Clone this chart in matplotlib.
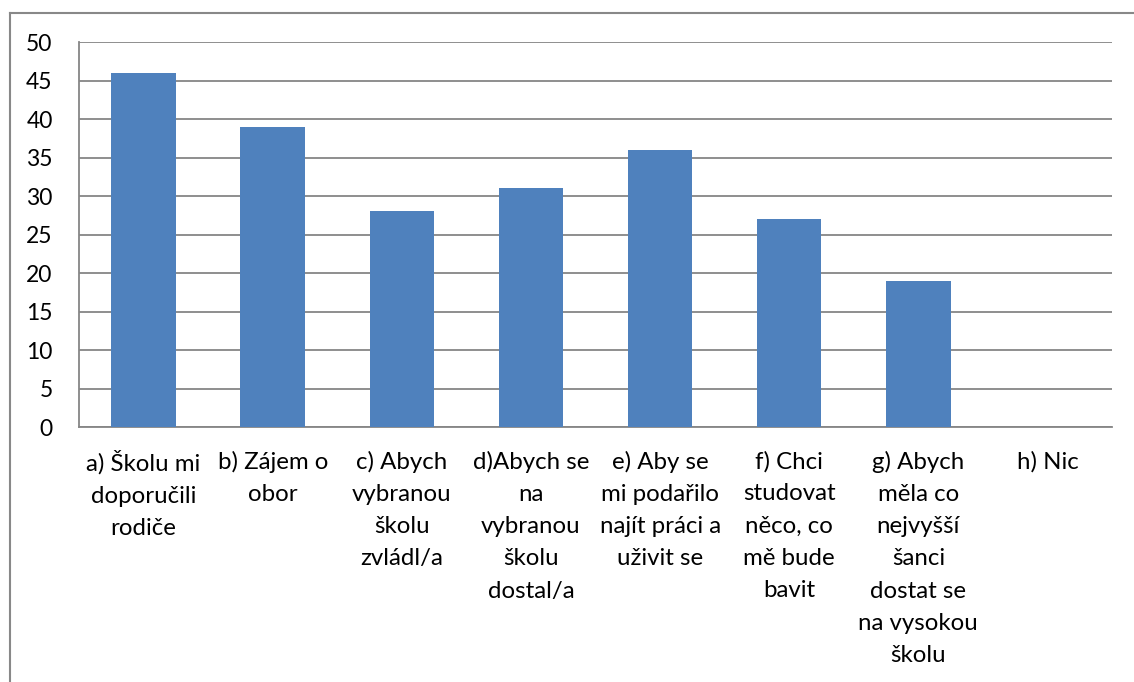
import matplotlib.pyplot as plt
from matplotlib.lines import Line2D

# Data
categories = [
    "a) Školu mi\ndoporučili\nrodiče",
    "b) Zájem o\nobor",
    "c) Abych\nvybranou\nškolu\nzvládl/a",
    "d)Abych se\nna\nvybranou\nškolu\ndostal/a",
    "e) Aby se\nmi podařilo\nnajít práci a\nuživit se",
    "f) Chci\nstudovat\nněco, co\nmě bude\nbavit",
    "g) Abych\nměla co\nnejvyšší\nšanci\ndostat se\nna vysokou\nškolu",
    "h) Nic",
]
values = [46, 39, 28, 31, 36, 27, 19, 0]
yticks = [0, 5, 10, 15, 20, 25, 30, 35, 40, 45, 50]

plt.rcParams["font.family"] = ["Lato", "DejaVu Sans"]

fig = plt.figure(figsize=(11.34, 6.82), dpi=100)
ax = fig.add_axes([0.0697, 0.3739, 0.9109, 0.5645])

x = range(len(categories))
ax.bar(x, values, width=0.5, color="#4F81BD", zorder=3)

ax.set_xlim(-0.5, len(categories) - 0.5)
ax.set_ylim(0, 50)
ax.set_yticks(yticks)
ax.set_xticks(list(x))
ax.set_xticklabels(categories, fontsize=17.3, linespacing=1.66, va="top")
ax.tick_params(axis="y", length=0, pad=19, labelsize=16.5)
ax.tick_params(axis="x", length=0, pad=17)
ax.grid(axis="y", color="#868686", linewidth=1.3, zorder=0)

for side in ["top", "right"]:
    ax.spines[side].set_visible(False)
ax.spines["left"].set_color("#868686")
ax.spines["left"].set_linewidth(1.3)
ax.spines["bottom"].set_color("#868686")
ax.spines["bottom"].set_linewidth(1.3)

# Outer chart border (left and top edges visible)
fig.add_artist(Line2D([10 / 1134, 10 / 1134], [0, 1 - 13 / 682],
                      transform=fig.transFigure, color="#888888", linewidth=1.5))
fig.add_artist(Line2D([10 / 1134, 1], [1 - 13 / 682, 1 - 13 / 682],
                      transform=fig.transFigure, color="#888888", linewidth=1.5))

fig.savefig("out.png", dpi=100)
